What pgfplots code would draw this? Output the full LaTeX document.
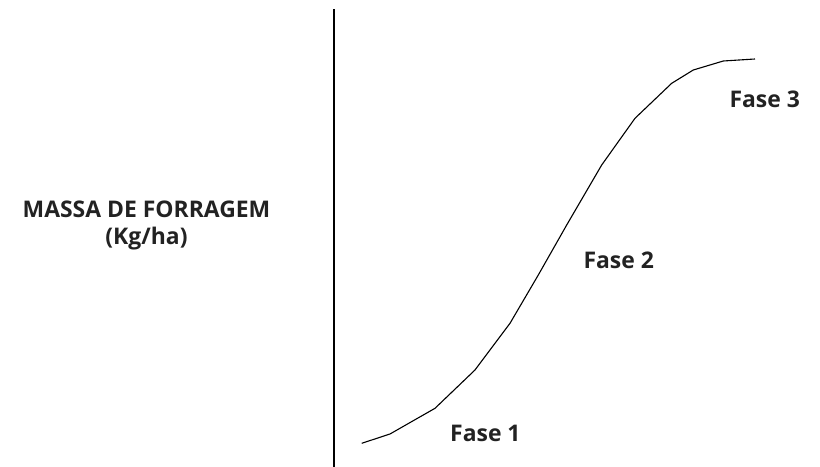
\documentclass[border=0pt]{standalone}
\usepackage{pgfplots}
\pgfplotsset{compat=1.18}
\usepackage{fontspec}
\setmainfont{Open Sans}
\definecolor{txt}{HTML}{222222}
\begin{document}
\begin{tikzpicture}[x=1bp,y=1bp]
\begin{axis}[
  width=820bp, height=467bp, scale only axis,
  xmin=0, xmax=820, ymin=0, ymax=467,
  hide axis, clip=false, anchor=south west, at={(0,0)},
]
\addplot[black, line width=1.1bp] coordinates {(334,0.3) (334,457.7)};
\addplot[black, line width=1.1bp] coordinates {
(361.7,23.7)
(390,33)
(435,58.7)
(475,97)
(510,143.7)
(538.3,192)
(566.7,242)
(601.7,302)
(635,348.7)
(671.7,383.7)
(693.3,397)
(723.3,406)
(755,408)
};
\node[anchor=base, font=\fontsize{23}{27}\selectfont\bfseries, text=txt, inner sep=0pt] at (axis cs:146.5,249) {MASSA DE FORRAGEM};
\node[anchor=base, font=\fontsize{23}{27}\selectfont\bfseries, text=txt, inner sep=0pt] at (axis cs:146.5,222) {(Kg/ha)};
\node[anchor=base west, font=\fontsize{23}{27}\selectfont\bfseries, text=txt, inner sep=0pt] at (axis cs:450,26) {Fase 1};
\node[anchor=base west, font=\fontsize{23}{27}\selectfont\bfseries, text=txt, inner sep=0pt] at (axis cs:583.3,198.7) {Fase 2};
\node[anchor=base west, font=\fontsize{23}{27}\selectfont\bfseries, text=txt, inner sep=0pt] at (axis cs:729.3,359.7) {Fase 3};
\end{axis}
\pgfresetboundingbox
\useasboundingbox (0,0) rectangle (820bp,467bp);
\end{tikzpicture}
\end{document}
